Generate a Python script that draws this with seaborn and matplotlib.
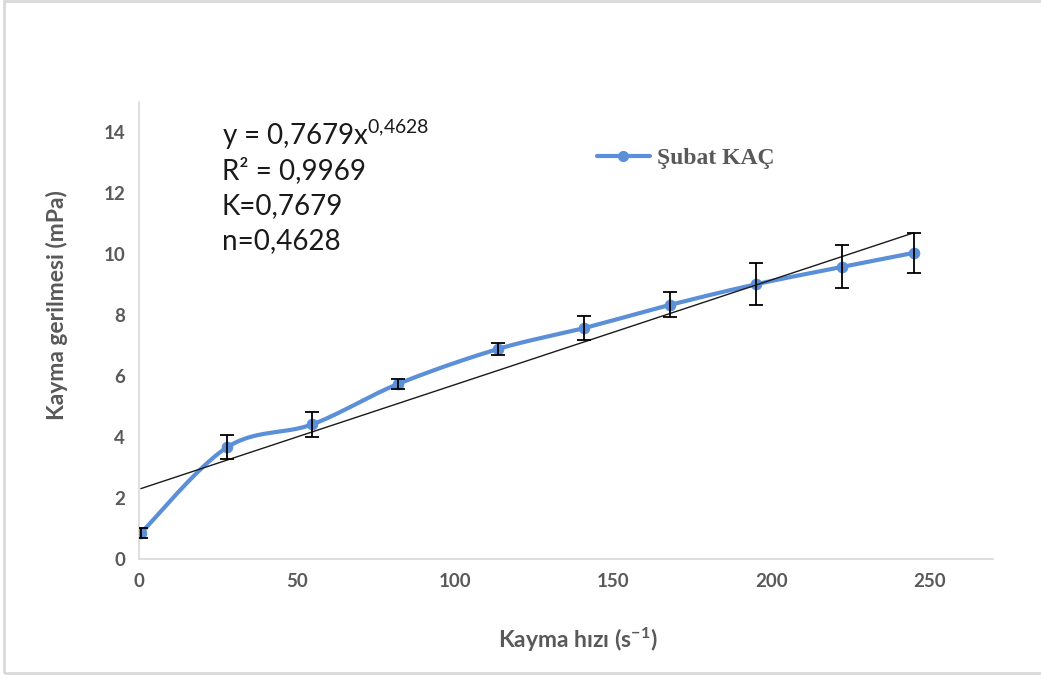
import numpy as np
import pandas as pd
import matplotlib
matplotlib.use("Agg")
import matplotlib.pyplot as plt
import seaborn as sns
from matplotlib.lines import Line2D
from matplotlib.patches import Rectangle

# ---- data ----
shear_rate = [0.6, 27.9, 54.8, 82.0, 113.4, 140.7, 167.9, 195.2, 222.4, 245.0]
shear_stress = [0.85, 3.67, 4.42, 5.75, 6.89, 7.58, 8.34, 9.02, 9.59, 10.05]
stress_err = [0.16, 0.39, 0.40, 0.16, 0.20, 0.40, 0.41, 0.68, 0.71, 0.65]
trend_intercept = 2.29
trend_slope = 0.03436
series_name = "Şubat KAÇ"
x_ticks = [0, 50, 100, 150, 200, 250]
y_ticks = [0, 2, 4, 6, 8, 10, 12, 14]
eq_lines = ["y = 0,7679x$^{0{,}4628}$", "R² = 0,9969", "K=0,7679", "n=0,4628"]

sns.set_theme(style="white")
plt.rcParams["font.family"] = ["Lato", "DejaVu Sans"]
plt.rcParams["mathtext.fontset"] = "custom"
plt.rcParams["mathtext.rm"] = "Lato"
plt.rcParams["mathtext.it"] = "Lato"
plt.rcParams["mathtext.bf"] = "Lato:bold"

BLUE = "#5b8fd8"
GREY = "#595959"
AXC = "#d9d9d9"

W, H = 1041, 679
fig = plt.figure(figsize=(W / 100, H / 100), dpi=100)
ax = fig.add_axes([139 / W, 1 - 559 / H, (993 - 139) / W, (559 - 102) / H])

XMAX, YMAX = 270, 15


def smooth(xs, ys, n=40):
    # Bezier smoothing with Catmull-Rom control points (Excel style), screen-like units
    sx, sy = 854 / XMAX, 457 / YMAX
    P = np.column_stack([np.asarray(xs) * sx, np.asarray(ys) * sy])
    P = np.vstack([P[0], P, P[-1]])
    out = []
    for i in range(1, len(P) - 2):
        p0, p1, p2, p3 = P[i - 1], P[i], P[i + 1], P[i + 2]
        c1 = p1 + (p2 - p0) / 6
        c2 = p2 - (p3 - p1) / 6
        t = np.linspace(0, 1, n)[:, None]
        seg = ((1 - t) ** 3) * p1 + 3 * ((1 - t) ** 2) * t * c1 + 3 * (1 - t) * t ** 2 * c2 + t ** 3 * p2
        out.append(seg if i == 1 else seg[1:])
    out = np.vstack(out)
    return out[:, 0] / sx, out[:, 1] / sy


cx, cy = smooth(shear_rate, shear_stress)
curve = pd.DataFrame({"x": cx, "y": cy})
pts = pd.DataFrame({"x": shear_rate, "y": shear_stress})

# trend line over the data range
tx = np.array([shear_rate[0], shear_rate[-1]])
trend = pd.DataFrame({"x": tx, "y": trend_intercept + trend_slope * tx})

sns.lineplot(data=curve, x="x", y="y", ax=ax, color=BLUE, lw=3.0, sort=False, zorder=3)
sns.scatterplot(data=pts, x="x", y="y", ax=ax, color=BLUE, s=60, edgecolor=BLUE, zorder=4)
ax.errorbar(shear_rate, shear_stress, yerr=stress_err, fmt="none", ecolor="black",
            elinewidth=1.3, capsize=5, capthick=1.3, zorder=5)
sns.lineplot(data=trend, x="x", y="y", ax=ax, color="#1a1a1a", lw=1.0, zorder=4)

ax.set_xlim(0, XMAX)
ax.set_ylim(0, YMAX)
ax.set_xticks(x_ticks)
ax.set_yticks(y_ticks)
ax.tick_params(axis="both", length=0, labelsize=13.5, labelcolor=GREY, pad=10)
for lab in ax.get_xticklabels() + ax.get_yticklabels():
    lab.set_fontweight("bold")
for s in ["top", "right"]:
    ax.spines[s].set_visible(False)
for s in ["left", "bottom"]:
    ax.spines[s].set_color(AXC)
    ax.spines[s].set_linewidth(1.2)

ax.set_xlabel("Kayma hızı (s$^{\\mathbf{-1}}$)", fontsize=16.5, fontweight="bold", color=GREY)
ax.set_ylabel("Kayma gerilmesi (mPa)", fontsize=16.5, fontweight="bold", color=GREY)
ax.xaxis.set_label_coords(578 / W, 1 - 640 / H, transform=fig.transFigure)
ax.yaxis.set_label_coords(57 / W, 1 - 305 / H, transform=fig.transFigure)
ax.xaxis.label.set_va("center")
ax.yaxis.label.set_va("center")

# equation text
for i, t in enumerate(eq_lines):
    fig.text(222 / W, 1 - (135 + i * 35.5) / H, t, fontsize=20, color="#1a1a1a",
             ha="left", va="center")

# legend
leg_handle = Line2D([], [], color=BLUE, lw=3.0, marker="o", markersize=7)
ax.legend([leg_handle], [series_name], loc="center left", bbox_to_anchor=(585 / W, 1 - 158 / H),
          bbox_transform=fig.transFigure, frameon=False, borderpad=0, handlelength=2.25,
          handletextpad=0.3, prop={"family": "Liberation Serif", "weight": "bold", "size": 17},
          labelcolor=GREY)

# outer frame
fig.patches.append(Rectangle((4 / W, 6 / H), 1.1, (H - 7) / H, transform=fig.transFigure,
                             fill=False, edgecolor=AXC, lw=2.0))

fig.savefig("out.png", dpi=100, facecolor="white")
